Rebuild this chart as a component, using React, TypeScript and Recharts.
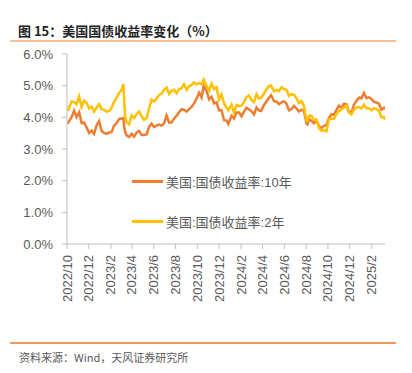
import React from "react";
import { LineChart, Line, XAxis, YAxis } from "recharts";

const dates = [
  "2022-10-03","2022-10-07","2022-10-14","2022-10-21","2022-10-28","2022-11-04","2022-11-11","2022-11-18","2022-11-25",
  "2022-12-02","2022-12-09","2022-12-16","2022-12-23","2022-12-30",
  "2023-01-06","2023-01-13","2023-01-20","2023-01-27","2023-02-03","2023-02-10","2023-02-17","2023-02-24",
  "2023-03-03","2023-03-08","2023-03-10","2023-03-13","2023-03-17","2023-03-24","2023-03-31",
  "2023-04-07","2023-04-14","2023-04-21","2023-04-28","2023-05-05","2023-05-12","2023-05-19","2023-05-26",
  "2023-06-02","2023-06-09","2023-06-16","2023-06-23","2023-06-30","2023-07-07","2023-07-14","2023-07-21","2023-07-28",
  "2023-08-04","2023-08-11","2023-08-18","2023-08-25","2023-09-01","2023-09-08","2023-09-15","2023-09-22","2023-09-29",
  "2023-10-06","2023-10-13","2023-10-19","2023-10-27","2023-11-03","2023-11-10","2023-11-17","2023-11-24",
  "2023-12-01","2023-12-08","2023-12-15","2023-12-22","2023-12-27",
  "2024-01-05","2024-01-12","2024-01-19","2024-01-26","2024-02-02","2024-02-09","2024-02-16","2024-02-23",
  "2024-03-01","2024-03-08","2024-03-15","2024-03-22","2024-03-28","2024-04-05","2024-04-12","2024-04-19","2024-04-25",
  "2024-05-03","2024-05-10","2024-05-17","2024-05-24","2024-05-31","2024-06-07","2024-06-14","2024-06-21","2024-06-28",
  "2024-07-05","2024-07-12","2024-07-19","2024-07-26","2024-08-02","2024-08-05","2024-08-09","2024-08-16","2024-08-23","2024-08-30",
  "2024-09-06","2024-09-13","2024-09-20","2024-09-27","2024-10-04","2024-10-11","2024-10-18","2024-10-25",
  "2024-11-01","2024-11-08","2024-11-15","2024-11-22","2024-11-29","2024-12-06","2024-12-13","2024-12-20","2024-12-27",
  "2025-01-03","2025-01-10","2025-01-17","2025-01-24","2025-01-31","2025-02-07","2025-02-14","2025-02-21","2025-02-28",
  "2025-03-07","2025-03-10",
];

const yield10Y = [
  3.80,3.88,4.01,4.21,4.01,4.16,3.82,3.83,3.68,
  3.51,3.58,3.48,3.75,3.88,
  3.57,3.51,3.48,3.52,3.53,3.74,3.82,3.95,
  3.96,3.98,3.70,3.55,3.43,3.38,3.48,
  3.39,3.52,3.57,3.44,3.44,3.46,3.70,3.80,
  3.69,3.74,3.77,3.74,3.81,4.06,3.83,3.84,3.96,
  4.05,4.16,4.25,4.24,4.18,4.26,4.33,4.44,4.59,
  4.78,4.63,4.99,4.84,4.57,4.65,4.44,4.47,
  4.22,4.23,3.91,3.90,3.79,
  4.05,3.96,4.15,4.15,4.03,4.18,4.30,4.25,
  4.19,4.09,4.31,4.22,4.20,4.39,4.50,4.62,4.70,
  4.51,4.50,4.42,4.47,4.51,4.43,4.22,4.26,4.36,
  4.28,4.18,4.24,4.20,3.80,3.78,3.94,3.89,3.81,3.91,
  3.72,3.66,3.73,3.75,3.98,4.10,4.08,4.24,
  4.37,4.30,4.43,4.41,4.18,4.15,4.40,4.52,4.62,
  4.60,4.77,4.61,4.63,4.58,4.49,4.47,4.43,4.24,
  4.30,4.25,
];

const yield2Y = [
  4.20,4.31,4.50,4.48,4.41,4.66,4.33,4.53,4.46,
  4.28,4.34,4.18,4.31,4.41,
  4.26,4.24,4.18,4.20,4.30,4.49,4.62,4.78,
  4.86,5.05,4.60,4.03,3.84,3.78,4.06,
  3.98,4.10,4.18,4.04,3.92,3.98,4.28,4.56,
  4.50,4.59,4.71,4.75,4.87,4.94,4.74,4.84,4.87,
  4.76,4.89,4.92,5.05,4.87,4.98,5.02,5.10,5.04,
  5.08,5.05,5.19,5.00,4.84,5.06,4.89,4.95,
  4.56,4.72,4.44,4.31,4.22,
  4.40,4.14,4.39,4.36,4.37,4.49,4.64,4.69,
  4.54,4.48,4.73,4.59,4.62,4.75,4.88,4.99,5.00,
  4.82,4.87,4.83,4.95,4.89,4.87,4.68,4.73,4.71,
  4.60,4.45,4.51,4.36,3.88,3.89,4.05,4.05,3.92,3.92,
  3.66,3.58,3.59,3.56,3.93,3.96,3.95,4.11,
  4.20,4.25,4.31,4.37,4.15,4.10,4.24,4.31,4.32,
  4.28,4.40,4.29,4.29,4.22,4.29,4.26,4.20,4.00,
  4.01,3.92,
];

const tickLabels = [
  "2022/10","2022/12","2023/2","2023/4","2023/6","2023/8","2023/10",
  "2023/12","2024/2","2024/4","2024/6","2024/8","2024/10","2024/12","2025/2",
];

const yTicks = [0, 1, 2, 3, 4, 5, 6];

const seriesNames = ["美国:国债收益率:10年", "美国:国债收益率:2年"];
const COLOR_10 = "#ED7D31";
const COLOR_2 = "#FFC000";

const DAY = 86400000;
const toDay = (s: string) => {
  const [y, m, d] = s.split("-").map(Number);
  return Date.UTC(y, m - 1, d) / DAY;
};
const labelToDay = (s: string) => {
  const [y, m] = s.split("/").map(Number);
  return Date.UTC(y, m - 1, 1) / DAY;
};

const data = dates.map((d, i) => ({ t: toDay(d), y10: yield10Y[i], y2: yield2Y[i] }));
const tickValues = tickLabels.map(labelToDay);
const labelMap: Record<number, string> = {};
tickValues.forEach((v, i) => (labelMap[v] = tickLabels[i]));

const LATIN = "'Liberation Sans', Arial, 'Noto Sans CJK SC', sans-serif";
const CJK = "'Noto Sans CJK SC', 'Liberation Sans', sans-serif";
const TEXT_GREY = "#595959";
const AXIS = "#BFBFBF";

const XTick = (props: any) => {
  const { x, y, payload } = props;
  return (
    <text
      x={x}
      y={y}
      transform={`rotate(-90 ${x} ${y})`}
      textAnchor="end"
      dominantBaseline="central"
      fontSize={13}
      fontFamily={LATIN}
      fill={TEXT_GREY}
    >
      {labelMap[payload.value]}
    </text>
  );
};

export default function App() {
  return (
    <div style={{ position: "absolute", left: 0, top: 0, width: 412, height: 373, background: "#fff" }}>
      <div
        style={{
          position: "absolute", left: 18, top: 21, fontFamily: CJK, fontWeight: 700,
          fontSize: 13, color: "#222", whiteSpace: "nowrap", lineHeight: "20px",
        }}
      >
        图 15：美国国债收益率变化（%）
      </div>
      <div style={{ position: "absolute", left: 10, top: 40, width: 386, height: 1.5, background: "#F6C294" }} />
      <LineChart
        width={412}
        height={373}
        data={data}
        margin={{ top: 54, right: 27, bottom: 0, left: 0 }}
      >
        <XAxis
          dataKey="t"
          type="number"
          domain={[toDay("2022-10-01"), toDay(dates[dates.length - 1])]}
          ticks={tickValues}
          interval={0}
          tick={<XTick />}
          tickSize={5}
          tickMargin={6}
          stroke={AXIS}
          height={129}
          allowDataOverflow
        />
        <YAxis
          type="number"
          domain={[0, 6]}
          ticks={yTicks}
          interval={0}
          tickFormatter={(v: number) => v.toFixed(1) + "%"}
          tick={{ fontSize: 13, fontFamily: LATIN, fill: TEXT_GREY }}
          tickSize={5}
          tickMargin={9}
          stroke={AXIS}
          width={67}
        />
        <Line dataKey="y10" name={seriesNames[0]} stroke={COLOR_10} strokeWidth={2.5} dot={false} isAnimationActive={false} />
        <Line dataKey="y2" name={seriesNames[1]} stroke={COLOR_2} strokeWidth={2.5} dot={false} isAnimationActive={false} />
      </LineChart>
      <div style={{ position: "absolute", left: 132, top: 171, fontFamily: LATIN, fontSize: 13, color: TEXT_GREY }}>
        {[COLOR_10, COLOR_2].map((c, i) => (
          <div key={i} style={{ display: "flex", alignItems: "center", height: 20, marginBottom: i === 0 ? 20 : 0 }}>
            <span style={{ display: "inline-block", width: 31, height: 3, background: c, marginRight: 3 }} />
            <span>{seriesNames[i]}</span>
          </div>
        ))}
      </div>
      <div style={{ position: "absolute", left: 10, top: 342, width: 386, height: 1.5, background: "#EE9A5A" }} />
      <div
        style={{
          position: "absolute", left: 19, top: 349, fontFamily: CJK, fontSize: 11,
          color: TEXT_GREY, whiteSpace: "nowrap", lineHeight: "16px",
        }}
      >
        资料来源：Wind，天风证券研究所
      </div>
    </div>
  );
}
